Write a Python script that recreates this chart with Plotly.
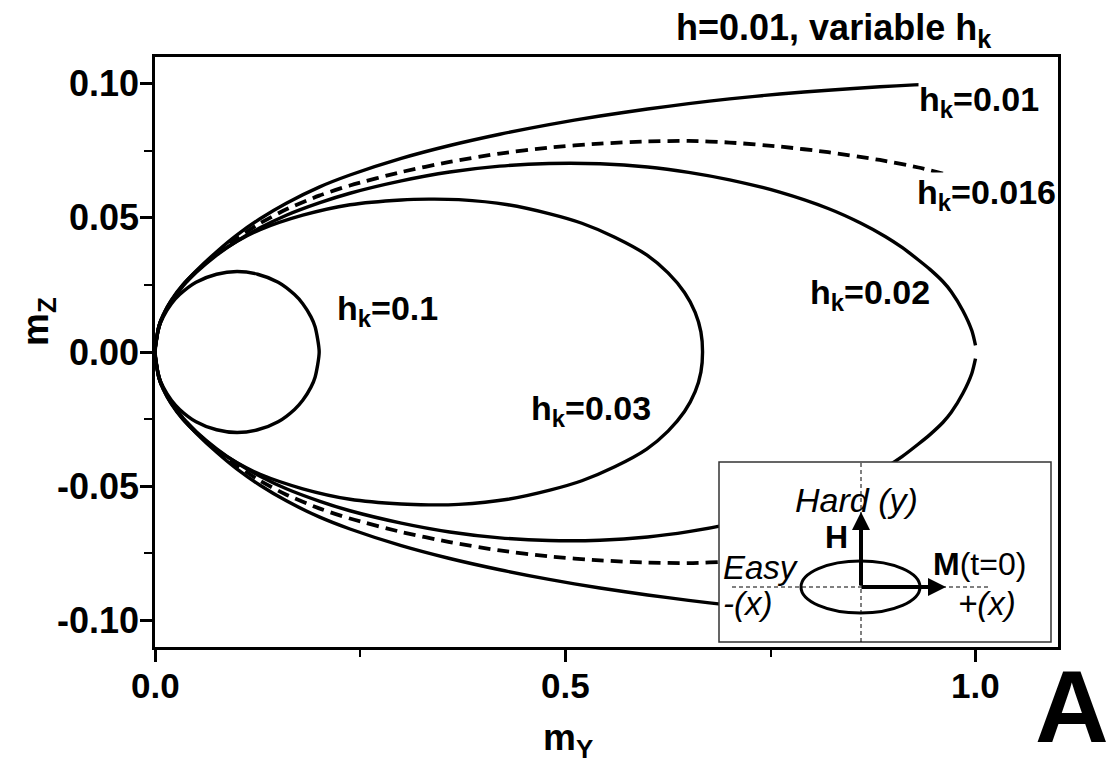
import plotly.graph_objects as go

# ---------------- data (upper halves, lower halves are mirror images) ----------------
# h_k = 0.1 (closed loop)
x_hk01 = [0, 0.005, 0.01, 0.02, 0.03, 0.05, 0.075, 0.1, 0.125, 0.15, 0.17, 0.18, 0.19, 0.195, 0.2]
y_hk01 = [0, 0.0094, 0.0131, 0.018, 0.0214, 0.026, 0.029, 0.030, 0.029, 0.026, 0.0214, 0.018, 0.0131, 0.0094, 0]

# h_k = 0.03 (closed loop)
x_hk003 = [0, 0.005, 0.01, 0.02, 0.034, 0.05, 0.0755, 0.1, 0.128, 0.18, 0.2375, 0.30, 0.3335, 0.37, 0.43,
           0.481, 0.52, 0.56, 0.599, 0.625, 0.645, 0.658, 0.665, 0.667]
y_hk003 = [0, 0.0099, 0.0139, 0.0194, 0.0251, 0.0300, 0.0365, 0.0413, 0.0456, 0.0510, 0.0549, 0.0567, 0.0570,
           0.0568, 0.0549, 0.0515, 0.0480, 0.0428, 0.0362, 0.0295, 0.0222, 0.0148, 0.0075, 0.0]

# h_k = 0.02 (closed loop with a tiny gap at m_Y = 1)
x_hk002 = [0, 0.005, 0.01, 0.02, 0.034, 0.05, 0.0755, 0.1, 0.128, 0.16, 0.2, 0.2375, 0.30, 0.359, 0.42, 0.48,
           0.542, 0.60, 0.65, 0.70, 0.761, 0.82, 0.86, 0.89, 0.91, 0.93, 0.944, 0.96, 0.97, 0.984, 0.995, 0.9995]
y_hk002 = [0, 0.0097, 0.0136, 0.0190, 0.0246, 0.0296, 0.0362, 0.0414, 0.0463, 0.0510, 0.0556, 0.0592, 0.0638,
           0.0671, 0.0693, 0.0703, 0.0702, 0.0690, 0.0670, 0.0642, 0.0596, 0.0535, 0.0480, 0.0430, 0.0390,
           0.0343, 0.0308, 0.0262, 0.0225, 0.0155, 0.0080, 0.0025]

# h_k = 0.016 (dashed, open)
x_hk0016 = [0, 0.005, 0.01, 0.02, 0.034, 0.05, 0.0755, 0.1, 0.128, 0.16, 0.2, 0.2375, 0.30, 0.359, 0.42, 0.48,
            0.542, 0.60, 0.65, 0.70, 0.761, 0.82, 0.883, 0.93, 0.96]
y_hk0016 = [0, 0.0097, 0.0136, 0.0190, 0.0247, 0.0299, 0.0368, 0.0424, 0.0480, 0.0532, 0.0583, 0.0621, 0.0671,
            0.0709, 0.0740, 0.0762, 0.0777, 0.0785, 0.0787, 0.0781, 0.0766, 0.0745, 0.0716, 0.0688, 0.0665]

# h_k = 0.01 (solid, open)
x_hk001 = [0, 0.005, 0.01, 0.02, 0.034, 0.05, 0.0755, 0.1, 0.128, 0.16, 0.2, 0.2375, 0.30, 0.359, 0.42, 0.48,
           0.542, 0.60, 0.65, 0.70, 0.761, 0.82, 0.883, 0.925, 0.96]
y_hk001 = [0, 0.0097, 0.0136, 0.0191, 0.0249, 0.0302, 0.0375, 0.0437, 0.0497, 0.0555, 0.0615, 0.0660, 0.0722,
           0.0770, 0.0812, 0.0848, 0.0880, 0.0906, 0.0926, 0.0944, 0.0962, 0.0976, 0.0989, 0.0996, 0.1000]

x_tickvals = [0.0, 0.5, 1.0]
x_ticktext = ["0.0", "0.5", "1.0"]
y_tickvals = [-0.10, -0.05, 0.0, 0.05, 0.10]
y_ticktext = ["-0.10", "-0.05", "0.00", "0.05", "0.10"]


def closed_loop(xs, ys):
    """upper half left->right, then lower half back right->left"""
    xx = list(xs) + list(reversed(xs))[1:]
    yy = list(ys) + [-v for v in reversed(ys)][1:]
    return xx, yy


def open_through_origin(xs, ys):
    """lower branch from its far end to the origin, then upper branch outwards"""
    xx = list(reversed(xs)) + list(xs)[1:]
    yy = [-v for v in reversed(ys)] + list(ys)[1:]
    return xx, yy


FONT = "Liberation Sans, Arial, Helvetica, sans-serif"
LW = 3.4

fig = go.Figure()

for (xs, ys, kind, dash, lw) in [
    (x_hk01, y_hk01, "closed", "solid", LW),
    (x_hk003, y_hk003, "closed", "solid", LW),
    (x_hk002, y_hk002, "gap", "solid", LW),
    (x_hk0016, y_hk0016, "open", "12px,7px", 3.8),
    (x_hk001, y_hk001, "open", "solid", LW),
]:
    if kind == "closed":
        xx, yy = closed_loop(xs, ys)
    else:
        xx, yy = open_through_origin(xs, ys)
    fig.add_trace(go.Scatter(x=xx, y=yy, mode="lines",
                             line=dict(color="black", width=lw, dash=dash, shape="spline", smoothing=0.7),
                             hoverinfo="skip", showlegend=False))

# ---------------- layout geometry ----------------
W, H = 1113, 764
PL, PR, PT, PB = 155, 1058, 57, 647


def fx(px):
    return (px - PL) / (PR - PL)


def fy(py):
    return (PB - py) / (PB - PT)


axis_common = dict(showgrid=False, zeroline=False, showline=True, linecolor="black", linewidth=3,
                   mirror=True, ticks="outside", tickcolor="black", tickwidth=2.5, ticklen=12,
                   showticklabels=False)

fig.update_layout(
    width=W, height=H,
    margin=dict(l=PL, r=W - PR, t=PT, b=H - PB),
    paper_bgcolor="white", plot_bgcolor="white",
    xaxis=dict(range=[0, 1.1], tickvals=x_tickvals,
               minor=dict(ticks="outside", ticklen=7, tickwidth=2, tickcolor="black", dtick=0.25, tick0=0),
               **axis_common),
    yaxis=dict(range=[-0.11, 0.11], tickvals=y_tickvals,
               minor=dict(ticks="outside", ticklen=8, tickwidth=2, tickcolor="black", dtick=0.025, tick0=0),
               **axis_common),
)

# tick labels placed at the axis values
for v, t in zip(x_tickvals, x_ticktext):
    fig.add_annotation(xref="x", yref="paper", x=v, y=fy(685), text=t, showarrow=False,
                       xanchor="center", yanchor="middle",
                       font=dict(family=FONT, size=35, color="black", weight="bold"))
for v, t in zip(y_tickvals, y_ticktext):
    fig.add_annotation(xref="paper", yref="y", x=fx(141), y=v, text=t, showarrow=False,
                       xanchor="right", yanchor="middle",
                       font=dict(family=FONT, size=36, color="black", weight="bold"))


def label(text, cx, cy, size=34, bg="white", bold=True, italic=False, xanchor="center"):
    fig.add_annotation(xref="paper", yref="paper", x=fx(cx), y=fy(cy), text=text, showarrow=False,
                       xanchor=xanchor, yanchor="middle",
                       font=dict(family=FONT, size=size, color="black",
                                 weight="bold" if bold else "normal",
                                 style="italic" if italic else "normal"),
                       bgcolor=bg, borderpad=0)


# curve labels
label("h<sub>k</sub>=0.01", 979, 101)
label("h<sub>k</sub>=0.016", 986, 194)
label("h<sub>k</sub>=0.02", 870, 294)
label("h<sub>k</sub>=0.1", 387, 310)
label("h<sub>k</sub>=0.03", 591, 410)

# title
label("h=0.01, variable h<sub>k</sub>", 834, 30, size=36, bg=None)

# axis titles
label("m<sub>Y</sub>", 568, 740, size=37, bg=None)
fig.add_annotation(xref="paper", yref="paper", x=fx(38), y=fy(322), text="m<sub>Z</sub>", showarrow=False,
                   textangle=-90, xanchor="center", yanchor="middle",
                   font=dict(family=FONT, size=37, color="black", weight="bold"))

# panel letter
fig.add_annotation(xref="paper", yref="paper", x=fx(1033), y=fy(707), text="A", showarrow=False,
                   xanchor="left", yanchor="middle",
                   font=dict(family=FONT, size=102, color="black", weight="bold"))

# ---------------- inset diagram ----------------
IX0, IX1, IY0, IY1 = 719, 1051, 462, 642
fig.add_shape(type="rect", xref="paper", yref="paper", x0=fx(IX0), x1=fx(IX1), y0=fy(IY1), y1=fy(IY0),
              fillcolor="white", line=dict(color="#333333", width=1.5), layer="above")
fig.add_shape(type="line", xref="paper", yref="paper", x0=fx(861), x1=fx(861), y0=fy(IY1), y1=fy(IY0),
              line=dict(color="black", width=1, dash="4px,3px"), layer="above")
fig.add_shape(type="line", xref="paper", yref="paper", x0=fx(732), x1=fx(990), y0=fy(587), y1=fy(587),
              line=dict(color="black", width=1, dash="4px,3px"), layer="above")
fig.add_shape(type="circle", xref="paper", yref="paper", x0=fx(801), x1=fx(920), y0=fy(613), y1=fy(561),
              line=dict(color="black", width=3), layer="above")

# arrows H (up) and M (right)
fig.add_annotation(xref="paper", yref="paper", x=fx(861), y=fy(512), ax=0, ay=75, axref="pixel", ayref="pixel",
                   text="", showarrow=True, arrowhead=2, arrowsize=0.9, arrowwidth=4, arrowcolor="black",
                   standoff=0, startstandoff=0)
fig.add_annotation(xref="paper", yref="paper", x=fx(946), y=fy(587), ax=-86, ay=0, axref="pixel", ayref="pixel",
                   text="", showarrow=True, arrowhead=2, arrowsize=0.9, arrowwidth=4, arrowcolor="black",
                   standoff=0, startstandoff=0)

label("Hard (y)", 856, 500, size=34, bg=None, bold=False, italic=True)
label("H", 836, 537, size=32, bg=None)
label("<b>M</b>(t=0)", 979, 564, size=32, bg=None, bold=False)
label("Easy", 761, 567, size=33, bg=None, bold=False, italic=True)
label("-(x)", 747, 603, size=33, bg=None, bold=False, italic=True)
label("+(x)", 987, 603, size=33, bg=None, bold=False, italic=True)

fig.write_html("out.html")
